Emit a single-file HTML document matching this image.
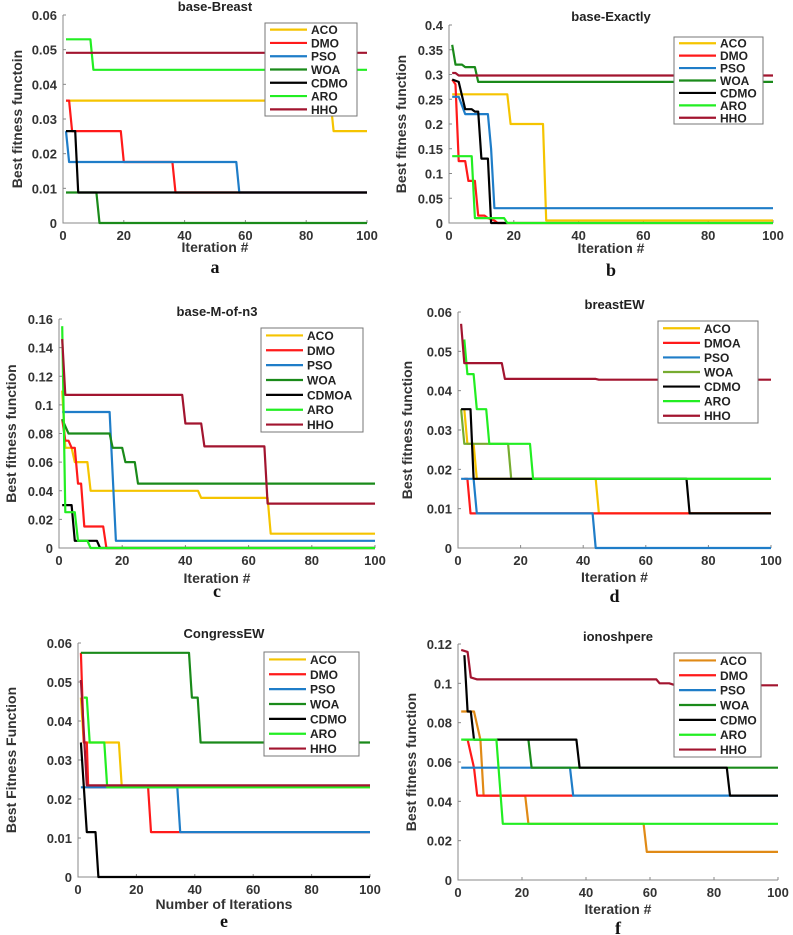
<!DOCTYPE html>
<html><head><meta charset="utf-8">
<style>
html,body{margin:0;padding:0;background:#fff;}
svg{display:block;}
text{font-family:"Liberation Sans",Arial,sans-serif;}
</style></head>
<body>
<svg id="fig" width="793" height="935" viewBox="0 0 793 935" xmlns="http://www.w3.org/2000/svg"></svg>
<script>
const xTicks = [0, 20, 40, 60, 80, 100];
const algoNames = ["ACO","DMO","PSO","WOA","CDMO","ARO","HHO"];
const baseColors = ["#f5c400","#ff1a1a","#1f7dc8","#1a8a1a","#000000","#22ee22","#a2142f"];

// Panel a: base-Breast
const aACO = [[1,.0353],[88,.0353],[89,.0265],[100,.0265]];
const aDMO = [[1,.0353],[2,.0353],[3,.0265],[19,.0265],[20,.0176],[36,.0176],[37,.0088],[100,.0088]];
const aPSO = [[1,.0265],[2,.0176],[57,.0176],[58,.0088],[100,.0088]];
const aWOA = [[1,.0088],[11,.0088],[12,0],[100,0]];
const aCDMO = [[1,.0265],[4,.0265],[5,.0088],[100,.0088]];
const aARO = [[1,.053],[9,.053],[10,.0442],[100,.0442]];
const aHHO = [[1,.0491],[100,.0491]];
const aYTicks = [0,.01,.02,.03,.04,.05,.06];
const aYLabels = ["0","0.01","0.02","0.03","0.04","0.05","0.06"];

// Panel b: base-Exactly
const bACO = [[1,.26],[18,.26],[19,.2],[29,.2],[30,.005],[100,.005]];
const bDMO = [[1,.29],[2,.28],[3,.125],[5,.125],[6,.085],[8,.085],[9,.015],[11,.015],[12,.01],[14,.005],[15,0],[100,0]];
const bPSO = [[1,.255],[3,.255],[5,.22],[12,.22],[13,.15],[14,.03],[100,.03]];
const bWOA = [[1,.36],[2,.32],[4,.32],[5,.315],[8,.315],[9,.285],[100,.285]];
const bCDMO = [[1,.29],[3,.285],[5,.23],[7,.23],[8,.225],[9,.225],[10,.13],[12,.13],[13,0],[18,0]];
const bARO = [[1,.135],[7,.135],[8,.01],[17,.01],[18,0],[100,0]];
const bHHO = [[1,.303],[2,.303],[3,.298],[100,.298]];
const bYTicks = [0,.05,.1,.15,.2,.25,.3,.35,.4];
const bYLabels = ["0","0.05","0.1","0.15","0.2","0.25","0.3","0.35","0.4"];

// Panel c: base-M-of-n3
const cACO = [[1,.11],[2,.07],[4,.07],[5,.06],[9,.06],[10,.04],[44,.04],[45,.035],[66,.035],[67,.01],[100,.01]];
const cDMO = [[1,.09],[2,.075],[3,.075],[4,.07],[5,.07],[6,.045],[7,.045],[8,.015],[14,.015],[15,0],[100,0]];
const cPSO = [[1,.095],[16,.095],[18,.005],[100,.005]];
const cWOA = [[1,.09],[3,.08],[16,.08],[17,.07],[20,.07],[21,.06],[24,.06],[25,.045],[100,.045]];
const cCDMOA = [[1,.03],[4,.03],[5,.005],[12,.005],[13,0],[100,0]];
const cARO = [[1,.155],[2,.025],[5,.025],[6,.005],[9,.005],[10,0],[100,0]];
const cHHO = [[1,.146],[2,.107],[39,.107],[40,.087],[45,.087],[46,.071],[65,.071],[66,.031],[100,.031]];
const cYTicks = [0,.02,.04,.06,.08,.1,.12,.14,.16];
const cYLabels = ["0","0.02","0.04","0.06","0.08","0.1","0.12","0.14","0.16"];

// Panel d: breastEW
const dACO = [[2,.0353],[3,.0265],[5,.0265],[6,.0176],[44,.0176],[45,.0088],[100,.0088]];
const dDMOA = [[2,.0176],[3,.0176],[4,.0088],[100,.0088]];
const dPSO = [[1,.0176],[5,.0176],[6,.0088],[43,.0088],[44,0],[100,0]];
const dWOA = [[1,.0353],[2,.0265],[16,.0265],[17,.0176],[100,.0176]];
const dCDMO = [[1,.0353],[4,.0353],[5,.0176],[73,.0176],[74,.0088],[100,.0088]];
const dARO = [[2,.053],[3,.0442],[5,.0442],[6,.0353],[9,.0353],[10,.0265],[23,.0265],[24,.0176],[100,.0176]];
const dHHO = [[1,.057],[2,.047],[14,.047],[15,.043],[44,.043],[45,.0428],[100,.0428]];
const dYTicks = [0,.01,.02,.03,.04,.05,.06];
const dYLabels = ["0","0.01","0.02","0.03","0.04","0.05","0.06"];

// Panel e: CongressEW
const eACO = [[1,.046],[2,.0345],[14,.0345],[15,.023],[100,.023]];
const eDMO = [[1,.0575],[2,.0345],[3,.0345],[3.5,.023],[24,.023],[25,.0115],[100,.0115]];
const ePSO = [[1,.023],[34,.023],[35,.0115],[100,.0115]];
const eWOA = [[1,.0575],[38,.0575],[39,.046],[41,.046],[42,.0345],[100,.0345]];
const eCDMO = [[1,.0345],[3,.0115],[6,.0115],[7,0],[100,0]];
const eARO = [[2,.046],[3,.046],[4,.0345],[9,.0345],[10,.023],[100,.023]];
const eHHO = [[1,.0505],[3,.0235],[100,.0235]];
const eYTicks = [0,.01,.02,.03,.04,.05,.06];
const eYLabels = ["0","0.01","0.02","0.03","0.04","0.05","0.06"];

// Panel f: ionoshpere
const fACO = [[1,.0857],[5,.0857],[7,.0714],[8,.0429],[21,.0429],[22,.0286],[58,.0286],[59,.0143],[100,.0143]];
const fDMO = [[2,.0714],[3,.0714],[5,.0571],[6,.0429],[36,.0429]];
const fPSO = [[1,.0571],[35,.0571],[36,.0429],[100,.0429]];
const fWOA = [[22,.0714],[23,.0571],[100,.0571]];
const fCDMO = [[2,.1143],[3,.0857],[4,.0857],[5,.0714],[37,.0714],[38,.0571],[84,.0571],[85,.0429],[100,.0429]];
const fARO = [[1,.0714],[12,.0714],[14,.0286],[100,.0286]];
const fHHO = [[1,.117],[3,.116],[4,.103],[6,.102],[62,.102],[63,.1],[66,.1],[68,.099],[100,.099]];
const fYTicks = [0,.02,.04,.06,.08,.1,.12];
const fYLabels = ["0","0.02","0.04","0.06","0.08","0.1","0.12"];

const NS = "http://www.w3.org/2000/svg";
const svg = document.getElementById("fig");
function mk(tag, attrs, parent, txt){
  const e = document.createElementNS(NS, tag);
  for (const k in attrs) e.setAttribute(k, attrs[k]);
  if (txt !== undefined) e.textContent = txt;
  (parent || svg).appendChild(e);
  return e;
}

const panels = [
 {id:"a", title:"base-Breast", ylab:"Best fitness functoin", xlab:"Iteration #", x0:63,x1:367,yT:15,yB:223,ymax:.06, yt:aYTicks, yl:aYLabels, series:[aACO,aDMO,aPSO,aWOA,aCDMO,aARO,aHHO], names:algoNames, colors:baseColors, leg:[265,23,357,116], titleY:11, xlabY:252, letterY:273, ylabX:22},
 {id:"b", title:"base-Exactly", ylab:"Best fitness function", xlab:"Iteration #", x0:449,x1:773,yT:25,yB:223,ymax:.4, yt:bYTicks, yl:bYLabels, series:[bACO,bDMO,bPSO,bWOA,bCDMO,bARO,bHHO], names:algoNames, colors:baseColors, leg:[674,37,763,124], titleY:21, xlabY:253, letterY:276, ylabX:406},
 {id:"c", title:"base-M-of-n3", ylab:"Best fitness function", xlab:"Iteration #", x0:59,x1:375,yT:319,yB:548,ymax:.16, yt:cYTicks, yl:cYLabels, series:[cACO,cDMO,cPSO,cWOA,cCDMOA,cARO,cHHO], names:["ACO","DMO","PSO","WOA","CDMOA","ARO","HHO"], colors:baseColors, leg:[261,328,363,432], titleY:316, xlabY:583, letterY:597, ylabX:16},
 {id:"d", title:"breastEW", ylab:"Best fitness function", xlab:"Iteration #", x0:458,x1:771,yT:312,yB:548,ymax:.06, yt:dYTicks, yl:dYLabels, series:[dACO,dDMOA,dPSO,dWOA,dCDMO,dARO,dHHO], names:["ACO","DMOA","PSO","WOA","CDMO","ARO","HHO"], colors:["#f5c400","#ff1a1a","#1f7dc8","#77ac30","#000000","#22ee22","#a2142f"], leg:[658,321,758,423], titleY:309, xlabY:582, letterY:602, ylabX:412},
 {id:"e", title:"CongressEW", ylab:"Best Fitness Function", xlab:"Number of Iterations", x0:78,x1:370,yT:643,yB:877,ymax:.06, yt:eYTicks, yl:eYLabels, series:[eACO,eDMO,ePSO,eWOA,eCDMO,eARO,eHHO], names:algoNames, colors:baseColors, leg:[264,652,359,756], titleY:638, xlabY:909, letterY:927, ylabX:16},
 {id:"f", title:"ionoshpere", ylab:"Best fitness function", xlab:"Iteration #", x0:458,x1:778,yT:644,yB:880,ymax:.12, yt:fYTicks, yl:fYLabels, series:[fACO,fDMO,fPSO,fWOA,fCDMO,fARO,fHHO], names:algoNames, colors:["#e08a16","#ff1a1a","#1f7dc8","#1a8a1a","#000000","#22ee22","#a2142f"], leg:[674,653,761,757], titleY:641, xlabY:914, letterY:934, ylabX:416}
];

panels.forEach(p => {
  const g = mk("g", {});
  
  
  const xs = v => p.x0 + (v/100)*(p.x1-p.x0);
  const ys = v => p.yB - (v/p.ymax)*(p.yB-p.yT);
  const ax = mk("path", {d:`M${p.x0},${p.yT}V${p.yB}H${p.x1}`, fill:"none", stroke:"#888", "stroke-width":1}, g);
  
  
  xTicks.forEach(t => {
    mk("line", {x1:xs(t),x2:xs(t),y1:p.yB,y2:p.yB-3,stroke:"#888"}, g);
    const tl = mk("text", {x:xs(t), y:p.yB+17, "text-anchor":"middle", "font-size":13, "font-weight":"bold", fill:"#333"}, g, String(t));
    
    
  });
  p.yt.forEach((t,i) => {
    mk("line", {x1:p.x0,x2:p.x0+3,y1:ys(t),y2:ys(t),stroke:"#888"}, g);
    const tl = mk("text", {x:p.x0-6, y:ys(t)+5, "text-anchor":"end", "font-size":13, "font-weight":"bold", fill:"#333"}, g, p.yl[i]);
    
    
  });
  p.series.forEach((s,i) => {
    const d = s.map((pt,k) => (k?"L":"M") + xs(pt[0]).toFixed(1) + "," + ys(pt[1]).toFixed(1)).join("");
    const ln = mk("path", {d:d, fill:"none", stroke:p.colors[i], "stroke-width":2.2, "stroke-linejoin":"round"}, g);
    
    
  });
  const ti = mk("text", {x:(p.x0+p.x1)/2, y:p.titleY, "text-anchor":"middle", "font-size":13, "font-weight":"bold", fill:"#222"}, g, p.title);
  
  
  const xl = mk("text", {x:(p.x0+p.x1)/2, y:p.xlabY, "text-anchor":"middle", "font-size":14, "font-weight":"bold", fill:"#333"}, g, p.xlab);
  
  
  const cy = (p.yT+p.yB)/2;
  const yl = mk("text", {x:p.ylabX, y:cy, "text-anchor":"middle", "font-size":14, "font-weight":"bold", fill:"#333", transform:`rotate(-90 ${p.ylabX} ${cy})`}, g, p.ylab);
  
  
  const lt = mk("text", {x:(p.x0+p.x1)/2, y:p.letterY, "text-anchor":"middle", "font-size":18, "font-weight":"bold", fill:"#111", style:"font-family:'Liberation Serif',serif"}, g, p.id);
  
  
  const [lx0,ly0,lx1,ly1] = p.leg;
  const lg = mk("g", {}, g);
  
  
  mk("rect", {x:lx0, y:ly0, width:lx1-lx0, height:ly1-ly0, fill:"#fff", stroke:"#777", "stroke-width":1}, lg);
  const step = (ly1-ly0)/7;
  p.names.forEach((n,i) => {
    const yy = ly0 + step*(i+0.5);
    const e = mk("g", {}, lg);
    
    
    mk("line", {x1:lx0+5, x2:lx0+42, y1:yy, y2:yy, stroke:p.colors[i], "stroke-width":2.2}, e);
    mk("text", {x:lx0+46, y:yy+4.5, "font-size":12, "font-weight":"bold", fill:"#222"}, e, n);
  });
});
</script>
</body></html>
